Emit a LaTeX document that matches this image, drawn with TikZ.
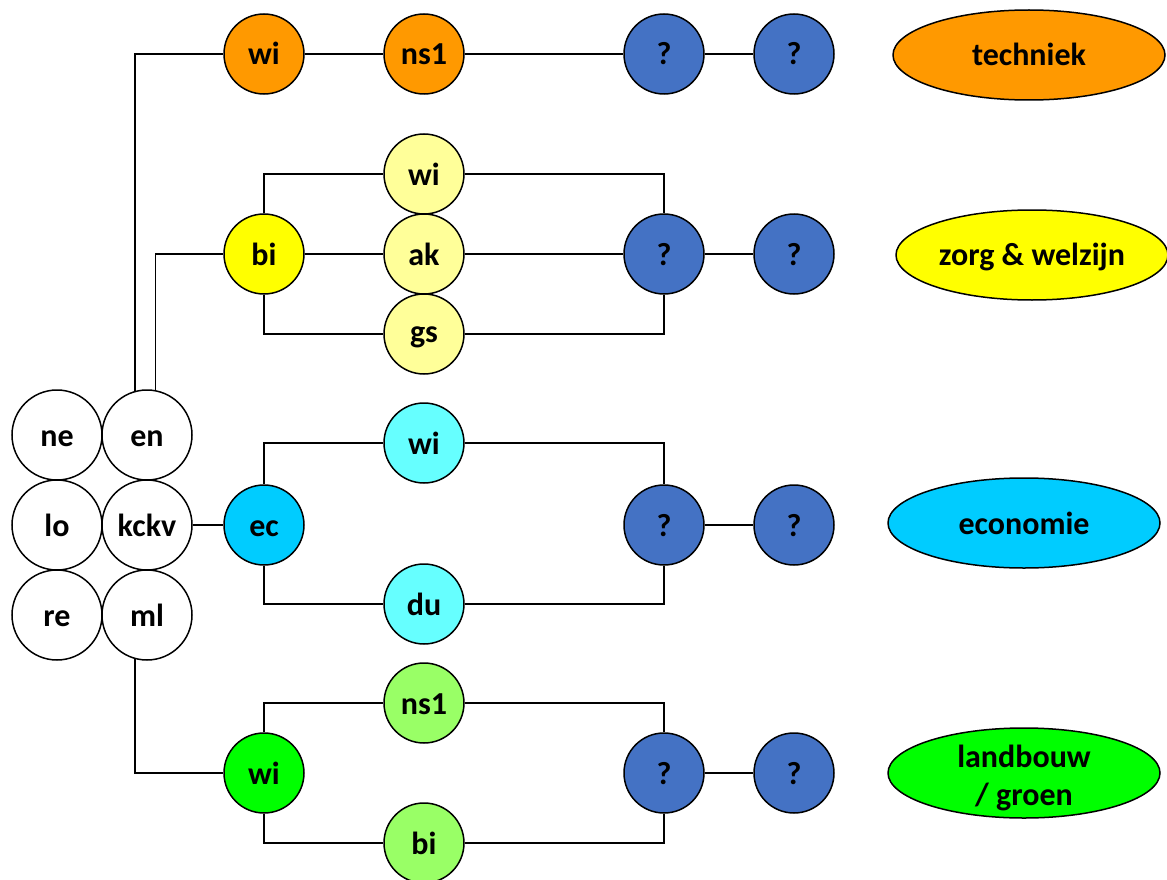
\documentclass[tikz,border=0pt]{standalone}
\usepackage{fontspec}
\setmainfont{Carlito}
\usetikzlibrary{shapes.geometric}
\definecolor{corange}{HTML}{FF9900}
\definecolor{cblue}{HTML}{4472C4}
\definecolor{cyel}{HTML}{FFFF00}
\definecolor{clyel}{HTML}{FFFF99}
\definecolor{ccyan}{HTML}{00CCFF}
\definecolor{clcyan}{HTML}{66FFFF}
\definecolor{cgreen}{HTML}{00FF00}
\definecolor{clgreen}{HTML}{99FF66}
\tikzset{
  subj/.style={circle, draw=black, line width=1.5pt, minimum size=80pt, inner sep=0pt, text height=22pt, text depth=0pt, font=\fontsize{32}{38}\selectfont\bfseries},
  base/.style={subj, minimum size=90pt, fill=white},
  qq/.style={subj, fill=cblue},
  prof/.style={ellipse, draw=black, line width=1.5pt, minimum width=272pt, minimum height=90pt, inner sep=0pt, align=center, font=\fontsize{32}{38}\selectfont\bfseries},
  conn/.style={line width=1.5pt, draw=black}
}
\begin{document}
\begin{tikzpicture}[x=1pt,y=-1pt]
\useasboundingbox (0,0) rectangle (1167,880);
% base
\node[base] (ne) at (57,435) {ne};
\node[base] (en) at (147,435) {en};
\node[base] (lo) at (57,525) {lo};
\node[base] (kckv) at (147,525) {kckv};
\node[base] (re) at (57,615) {re};
\node[base] (ml) at (147,615) {ml};
% row 1
\node[subj, fill=corange] (wiT) at (264,54) {wi};
\node[subj, fill=corange] (nsT) at (424,54) {ns1};
\node[qq] (qT1) at (664,54) {?};
\node[qq] (qT2) at (794,54) {?};
\node[prof, fill=corange, text height=22pt, text depth=0pt] (tech) at (1029,55) {techniek};
% row 2
\node[subj, fill=cyel] (biZ) at (264,254) {bi};
\node[subj, fill=clyel] (wiZ) at (424,174) {wi};
\node[subj, fill=clyel] (akZ) at (424,254) {ak};
\node[subj, fill=clyel, text depth=6pt] (gsZ) at (424,334) {gs};
\node[qq] (qZ1) at (664,254) {?};
\node[qq] (qZ2) at (794,254) {?};
\node[prof, fill=cyel, text height=22pt, text depth=2pt] (zorg) at (1032,255) {zorg \& welzijn};
% row 3
\node[subj, fill=ccyan] (ecE) at (264,525) {ec};
\node[subj, fill=clcyan] (wiE) at (424,443) {wi};
\node[subj, fill=clcyan] (duE) at (424,604) {du};
\node[qq] (qE1) at (664,525) {?};
\node[qq] (qE2) at (794,525) {?};
\node[prof, fill=ccyan, text height=22pt, text depth=0pt] (eco) at (1024,523) {economie};
% row 4
\node[subj, fill=cgreen] (wiL) at (264,773) {wi};
\node[subj, fill=clgreen] (nsL) at (424,703) {ns1};
\node[subj, fill=clgreen] (biL) at (424,843) {bi};
\node[qq] (qL1) at (664,773) {?};
\node[qq] (qL2) at (794,773) {?};
\node[prof, fill=cgreen] (land) at (1024,773) {};
\node[font=\fontsize{32}{38}\selectfont\bfseries, align=center, inner sep=0pt] (landtxt) at ([yshift=-5pt]land.center) {landbouw\\/ groen};
% connectors from base
\draw[conn] (en.105.5) |- (wiT.west);
\draw[conn] (en.79.8) |- (biZ.west);
\draw[conn] (kckv.east) -- (ecE.west);
\draw[conn] (ml.-105.5) |- (wiL.west);
% row 1
\draw[conn] (wiT) -- (nsT);
\draw[conn] (nsT) -- (qT1);
\draw[conn] (qT1) -- (qT2);
% row 2
\draw[conn] (biZ.north) |- (wiZ.west);
\draw[conn] (biZ) -- (akZ);
\draw[conn] (biZ.south) |- (gsZ.west);
\draw[conn] (wiZ.east) -| (qZ1.north);
\draw[conn] (akZ) -- (qZ1);
\draw[conn] (gsZ.east) -| (qZ1.south);
\draw[conn] (qZ1) -- (qZ2);
% row 3
\draw[conn] (ecE.north) |- (wiE.west);
\draw[conn] (ecE.south) |- (duE.west);
\draw[conn] (wiE.east) -| (qE1.north);
\draw[conn] (duE.east) -| (qE1.south);
\draw[conn] (qE1) -- (qE2);
% row 4
\draw[conn] (wiL.north) |- (nsL.west);
\draw[conn] (wiL.south) |- (biL.west);
\draw[conn] (nsL.east) -| (qL1.north);
\draw[conn] (biL.east) -| (qL1.south);
\draw[conn] (qL1) -- (qL2);
\end{tikzpicture}
\end{document}
